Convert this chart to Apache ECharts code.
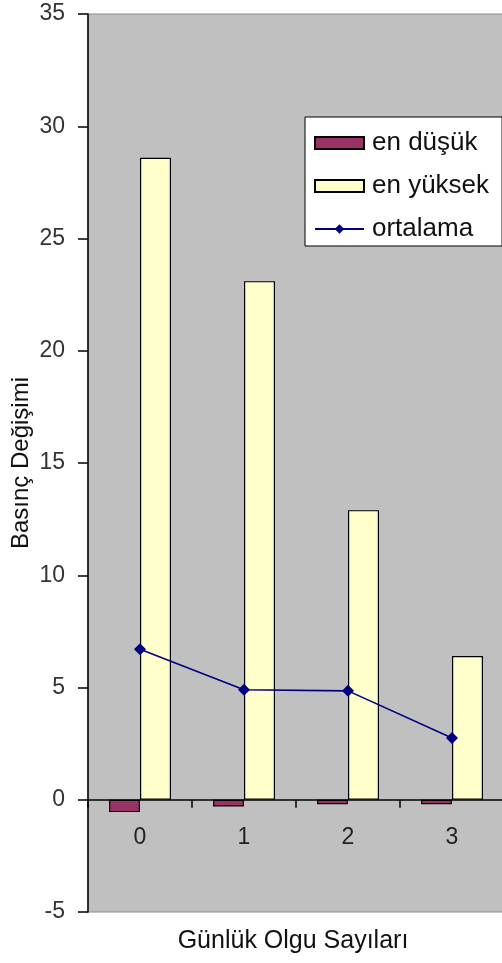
<!DOCTYPE html>
<html>
<head>
<meta charset="utf-8">
<script src="https://cdn.jsdelivr.net/npm/echarts@6/dist/echarts.min.js"></script>
<style>
html,body{margin:0;padding:0;background:#fff;}
#chart{width:502px;height:963px;}
</style>
</head>
<body>
<div id="chart"></div>
<script>
var categories = ['0', '1', '2', '3'];
var enDusuk = [-0.55, -0.3, -0.2, -0.2];
var enYuksek = [28.6, 23.1, 12.9, 6.4];
var ortalama = [6.7, 4.9, 4.85, 2.75];
var yTicks = { min: -5, max: 35, interval: 5 };

var FONT = 'Liberation Sans, Arial, sans-serif';
var GRID_H = 898;
// x axis sits on the zero line: offset from the grid bottom computed from the y range
var zeroOffset = -GRID_H * (0 - yTicks.min) / (yTicks.max - yTicks.min);

var chart = echarts.init(document.getElementById('chart'));
chart.setOption({
  backgroundColor: '#ffffff',
  animation: false,
  title: {
    text: 'Günlük Olgu Sayıları',
    left: 288,
    textAlign: 'center',
    top: 924,
    textStyle: { fontFamily: FONT, fontSize: 25, fontWeight: 'normal', color: '#111' }
  },
  grid: {
    left: 88, right: -2, top: 14, height: GRID_H,
    outerBoundsMode: 'none',
    containLabel: false,
    show: true,
    backgroundColor: '#C0C0C0',
    borderColor: '#8c8c8c',
    borderWidth: 1
  },
  legend: {
    orient: 'vertical',
    left: 305,
    top: 117,
    backgroundColor: '#ffffff',
    borderColor: '#000000',
    borderWidth: 1,
    borderRadius: 0,
    padding: [13, 13, 4, 9],
    itemWidth: 49,
    itemHeight: 12,
    itemGap: 17,
    textStyle: { fontFamily: FONT, fontSize: 26, color: '#111', lineHeight: 26, padding: [0, 0, 0, 3] },
    data: [
      { name: 'en düşük', icon: 'rect' },
      { name: 'en yüksek', icon: 'rect' },
      { name: 'ortalama' }
    ]
  },
  xAxis: {
    type: 'category',
    data: categories,
    boundaryGap: true,
    offset: zeroOffset,
    axisLine: { onZero: false, lineStyle: { color: '#000', width: 1.5 } },
    axisTick: { show: true, length: 8, lineStyle: { color: '#000', width: 1.5 } },
    axisLabel: { margin: 26, fontFamily: FONT, fontSize: 23, color: '#222' },
    splitLine: { show: false }
  },
  yAxis: {
    type: 'value',
    min: yTicks.min, max: yTicks.max, interval: yTicks.interval,
    name: 'Basınç Değişimi',
    nameLocation: 'middle',
    nameRotate: 90,
    nameGap: 55,
    nameMoveOverlap: false,
    nameTextStyle: { fontFamily: FONT, fontSize: 24, color: '#111' },
    axisLine: { show: true, onZero: false, lineStyle: { color: '#000', width: 1.5 } },
    axisTick: { show: true, length: 10, lineStyle: { color: '#000', width: 1.5 } },
    axisLabel: { margin: 23, fontFamily: FONT, fontSize: 23, color: '#333' },
    splitLine: { show: false }
  },
  series: [
    {
      name: 'en düşük', type: 'bar', data: enDusuk,
      barWidth: 31, barGap: '0%',
      itemStyle: { color: '#993366', borderColor: '#000', borderWidth: 1.2 }
    },
    {
      name: 'en yüksek', type: 'bar', data: enYuksek,
      barWidth: 31, barGap: '0%',
      itemStyle: { color: '#FFFFCC', borderColor: '#000', borderWidth: 1.2 }
    },
    {
      name: 'ortalama', type: 'line', data: ortalama,
      symbol: 'diamond', symbolSize: 12,
      lineStyle: { color: '#000080', width: 1.6 },
      itemStyle: { color: '#000080' },
      z: 5
    }
  ]
});
</script>
</body>
</html>
